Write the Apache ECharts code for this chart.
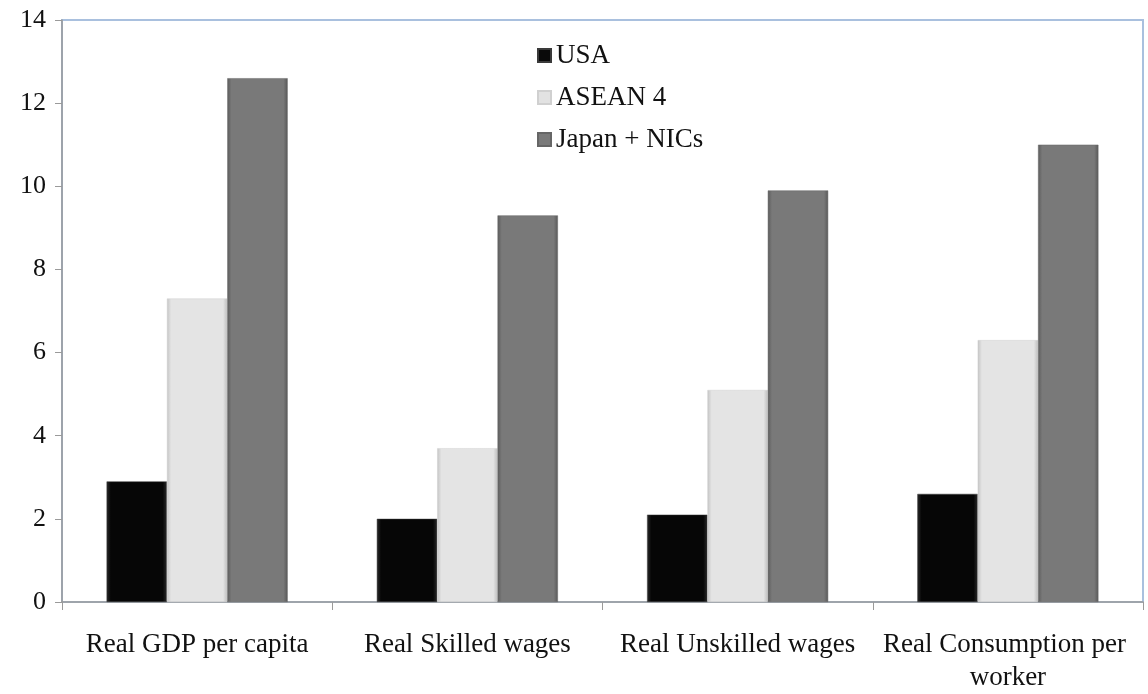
<!DOCTYPE html>
<html>
<head>
<meta charset="utf-8">
<script src="https://cdn.jsdelivr.net/npm/echarts@6/dist/echarts.min.js"></script>
<style>
  html, body { margin: 0; padding: 0; background: #fff; }
  #chart { width: 1148px; height: 694px; }
</style>
</head>
<body>
<div id="chart"></div>
<script>
// Categories and values (index relative units)
const categories = ['Real GDP per capita', 'Real Skilled wages', 'Real Unskilled wages', 'Real Consumption per worker'];
const usa = [2.9, 2.0, 2.1, 2.6];
const asean4 = [7.3, 3.7, 5.1, 6.3];
const japanNics = [12.6, 9.3, 9.9, 11.0];
const yTicks = [0, 2, 4, 6, 8, 10, 12, 14];

// Horizontal gradient with darker edges gives a bevelled bar look
function bevel(edge, face, edge2) {
  return {
    type: 'linear', x: 0, y: 0, x2: 1, y2: 0,
    colorStops: [
      { offset: 0, color: edge },
      { offset: 0.07, color: face },
      { offset: 0.93, color: face },
      { offset: 1, color: edge2 }
    ]
  };
}

const font = '"Liberation Serif", "DejaVu Serif", serif';

const chart = echarts.init(document.getElementById('chart'));
chart.setOption({
  animation: false,
  backgroundColor: '#ffffff',
  textStyle: { fontFamily: font },
  grid: {
    left: 62, right: 5, top: 20, bottom: 91,
    show: true, borderColor: '#a9c0de', borderWidth: 2, backgroundColor: 'transparent'
  },
  legend: {
    orient: 'vertical',
    left: 532, top: 37,
    icon: 'rect',
    itemWidth: 13, itemHeight: 13, itemGap: 15,
    textStyle: { fontFamily: font, fontSize: 27, color: '#111' },
    data: [
      { name: 'USA', itemStyle: { color: '#0a0a0a' } },
      { name: 'ASEAN 4', itemStyle: { color: '#e2e2e2' } },
      { name: 'Japan + NICs', itemStyle: { color: '#7a7a7a' } }
    ]
  },
  xAxis: {
    type: 'category',
    data: categories,
    axisLine: { lineStyle: { color: '#9a9a9a', width: 1.5 } },
    axisTick: { show: true, interval: 0, length: 8, lineStyle: { color: '#9a9a9a' } },
    axisLabel: {
      interval: 0, margin: 26, fontSize: 27, color: '#111', fontFamily: font,
      width: 268, overflow: 'break', lineHeight: 33
    }
  },
  yAxis: {
    type: 'value',
    min: yTicks[0], max: yTicks[yTicks.length - 1], interval: 2,
    splitLine: { show: false },
    axisLine: { show: true, lineStyle: { color: '#9a9a9a', width: 1.5 } },
    axisTick: { show: true, length: 7, lineStyle: { color: '#9a9a9a' } },
    axisLabel: { margin: 16, fontSize: 26, color: '#111', fontFamily: font }
  },
  series: [
    {
      name: 'USA', type: 'bar', data: usa,
      barGap: '0%', barCategoryGap: '33%',
      itemStyle: { color: bevel('#2a2a2a', '#060606', '#2a2a2a'), borderColor: '#3a3a3a', borderWidth: 0.5 }
    },
    {
      name: 'ASEAN 4', type: 'bar', data: asean4,
      itemStyle: { color: bevel('#c4c4c4', '#e4e4e4', '#bdbdbd'), borderColor: '#d0d0d0', borderWidth: 0.5 }
    },
    {
      name: 'Japan + NICs', type: 'bar', data: japanNics,
      itemStyle: { color: bevel('#5c5c5c', '#797979', '#585858'), borderColor: '#666', borderWidth: 0.5 }
    }
  ]
});
</script>
</body>
</html>
